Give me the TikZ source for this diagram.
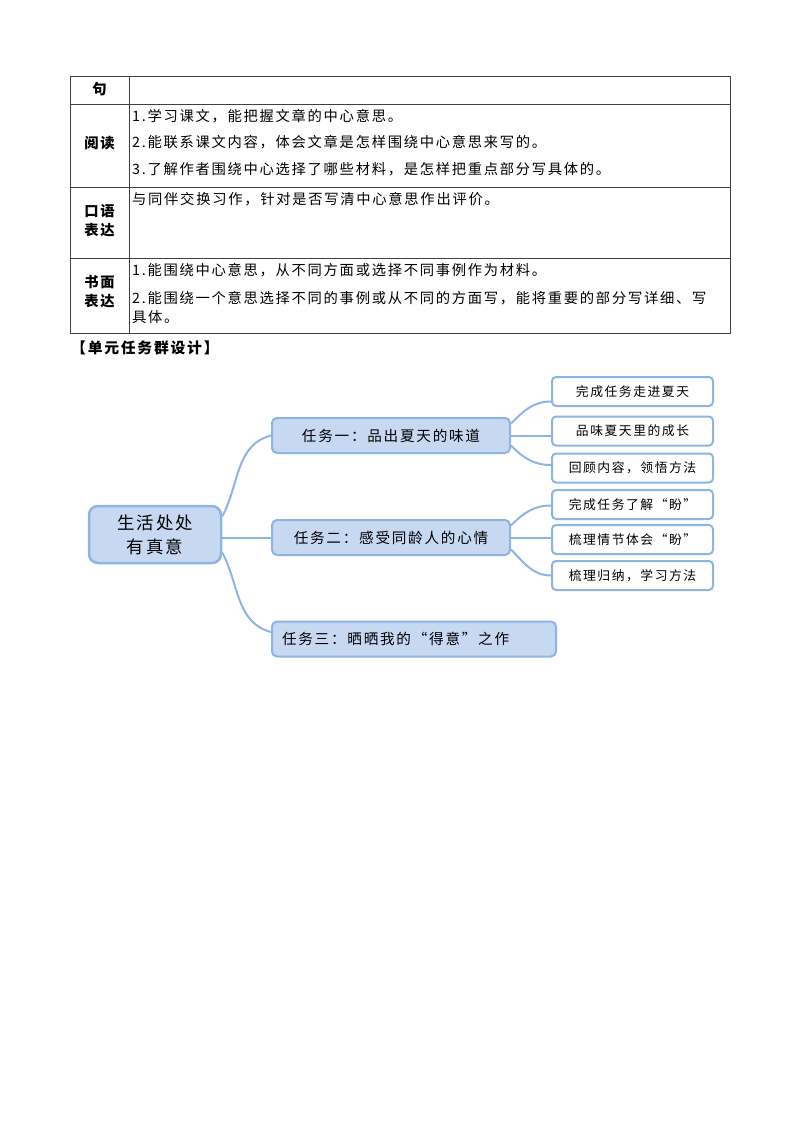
\documentclass[tikz,border=0pt]{standalone}
\usepackage{fontspec}
\setmainfont{Noto Sans CJK SC}[LetterSpace=12]
\pgfdeclarelayer{background}
\pgfsetlayers{background,main}
\definecolor{mmfill}{HTML}{C6D9F1}
\definecolor{mmline}{HTML}{8EB4E3}
\definecolor{rulec}{HTML}{404040}
\begin{document}
\begin{tikzpicture}[x=1pt,y=-1pt,
  tline/.style={draw=rulec, line width=0.9pt},
  head/.style={font=\fontsize{14.3}{19}\selectfont\bfseries, align=center, inner sep=0},
  cell/.style={font=\fontsize{14.3}{17}\selectfont, anchor=west, inner sep=0},
  root/.style={draw=mmline, fill=mmfill, line width=2.5pt, rounded corners=9pt, minimum width=132pt, minimum height=57pt, align=center, font=\fontsize{17.4}{24}\selectfont, inner sep=0},
  task/.style={draw=mmline, fill=mmfill, line width=2pt, rounded corners=5pt, minimum height=35pt, font=\fontsize{14.6}{17}\selectfont, inner sep=0},
  leaf/.style={draw=mmline, fill=white, line width=2pt, rounded corners=4pt, minimum width=161pt, minimum height=29pt, font=\fontsize{12.8}{15}\selectfont, inner sep=0},
  link/.style={draw=mmline, line width=2pt}
]
\useasboundingbox (0,0) rectangle (800,1132);

% table
\draw[tline] (70,76) rectangle (730,333);
\draw[tline] (129,76) -- (129,333);
\foreach \yy in {104,187,258} \draw[tline] (70,\yy) -- (730,\yy);

\node[head] (hju) at (99.5,89) {句};
\node[head] (hyd) at (99.5,143) {阅读};
\node[head] (hky) at (99.5,221) {口语\\表达};
\node[head] (hsm) at (99.5,292) {书面\\表达};

\node[cell] (r1a) at (132,116) {1.学习课文，能把握文章的中心意思。};
\node[cell] (r1b) at (132,142.5) {2.能联系课文内容，体会文章是怎样围绕中心意思来写的。};
\node[cell] (r1c) at (132,169) {3.了解作者围绕中心选择了哪些材料，是怎样把重点部分写具体的。};
\node[cell] (r2a) at (132,199) {与同伴交换习作，针对是否写清中心意思作出评价。};
\node[cell] (r3a) at (132,270) {1.能围绕中心意思，从不同方面或选择不同事例作为材料。};
\node[cell] (r3b) at (132,298) {2.能围绕一个意思选择不同的事例或从不同的方面写，能将重要的部分写详细、写};
\node[cell] (r3c) at (132,317) {具体。};

\node[cell, font=\fontsize{14.8}{17}\selectfont\bfseries] (title) at (71,348) {【单元任务群设计】};

% mind map
\node[root] (root) at (155,534.5) {生活处处\\有真意};
\node[task, minimum width=238pt] (t1) at (391,435.5) {任务一：品出夏天的味道};
\node[task, minimum width=238pt] (t2) at (391,537.5) {任务二：感受同龄人的心情};
\node[task, text width=264pt, align=left, inner xsep=10pt] (t3) at (414,639) {任务三：晒晒我的“得意”之作};

\node[leaf] (b1) at (632.5,391.5) {完成任务走进夏天};
\node[leaf] (b2) at (632.5,431) {品味夏天里的成长};
\node[leaf] (b3) at (632.5,468) {回顾内容，领悟方法};
\node[leaf] (b4) at (632.5,504.5) {完成任务了解“盼”};
\node[leaf] (b5) at (632.5,539.5) {梳理情节体会“盼”};
\node[leaf] (b6) at (632.5,575.5) {梳理归纳，学习方法};

\begin{pgfonlayer}{background}
\draw[link] (root.15) to[out=62,in=195] (t1.west);
\draw[link] (t2.west -| root.east) -- (t2.west);
\draw[link] (root.-15) to[out=-62,in=165] ([yshift=7pt]t3.west);
\draw[link] ([yshift=12pt]t1.east) to[out=45,in=180] ([yshift=-10pt]b1.west);
\draw[link] (t1.east) -- (t1.east -| b2.west);
\draw[link] ([yshift=-10pt]t1.east) to[out=-45,in=180] ([yshift=3pt]b3.west);
\draw[link] ([yshift=12pt]t2.east) to[out=45,in=180] ([yshift=-1pt]b4.west);
\draw[link] (t2.east) -- (t2.east -| b5.west);
\draw[link] ([yshift=-12pt]t2.east) to[out=-45,in=180] (b6.west);
\end{pgfonlayer}
\end{tikzpicture}
\end{document}
